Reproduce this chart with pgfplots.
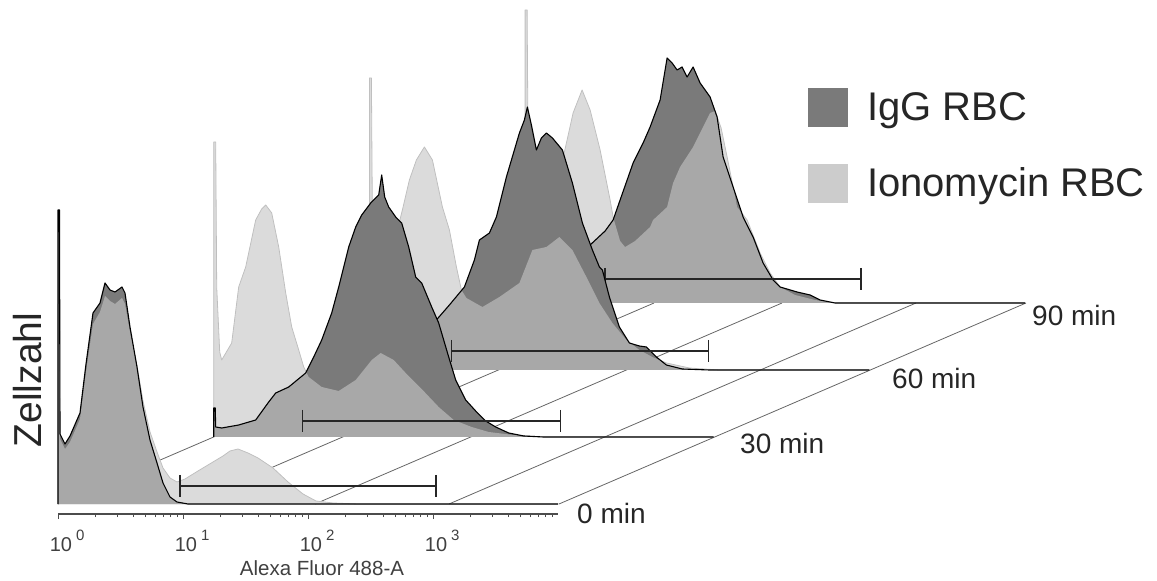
\documentclass[border=0pt]{standalone}
\usepackage{fontspec}
\setmainfont{Liberation Sans}
\usepackage{pgfplots}
\usepackage{pgfplotstable}
\pgfplotsset{compat=1.18}

\definecolor{igg}{gray}{0.48}
\definecolor{iono}{gray}{0.772}
\definecolor{ionoedge}{gray}{0.74}
\definecolor{legiono}{gray}{0.80}
\definecolor{txt}{gray}{0.15}

% x = log10(Alexa Fluor 488-A), y = cell count (relative)
% 0 min
\pgfplotstableread{
x y
0 0
0 294
0.012 294
0.016 70
0.056 60
0.096 68
0.176 91
0.224 140
0.28 191
0.336 201
0.376 221
0.416 214
0.456 212
0.512 217
0.536 211
0.576 177
0.632 137
0.68 97
0.736 64
0.792 41
0.84 21
0.896 7
0.952 2
1.04 0
4 0
}\iggA
\pgfplotstableread{
x y
0 0
0 200
0.012 200
0.016 65
0.056 55
0.096 62
0.176 85
0.224 132
0.28 180
0.336 192
0.376 208
0.416 203
0.456 200
0.512 206
0.536 200
0.576 172
0.632 138
0.68 103
0.736 72
0.792 52
0.84 36
0.896 26
0.952 22
1.016 25
1.12 33
1.24 42
1.32 48
1.376 53
1.44 55
1.52 51
1.6 46
1.72 36
1.84 22
1.96 10
2.064 3
2.2 1
2.4 0
4 0
}\ionoA
% 30 min
\pgfplotstableread{
x y
0 0
0 29
0.012 29
0.016 10
0.064 9
0.2 12
0.336 17
0.44 35
0.496 44
0.6 50
0.736 64
0.8 80
0.864 97
0.944 124
1.0 150
1.08 190
1.136 210
1.184 222
1.256 234
1.32 242
1.344 262
1.368 240
1.4 230
1.456 220
1.504 214
1.56 190
1.616 160
1.664 154
1.744 130
1.8 114
1.88 80
1.936 57
2.016 37
2.096 26
2.176 16
2.256 10
2.36 4
2.48 1
2.64 0
4 0
}\iggB
\pgfplotstableread{
x y
0 0
0 295
0.016 295
0.024 150
0.048 85
0.064 77
0.144 94
0.2 150
0.256 170
0.336 217
0.384 228
0.416 232
0.464 224
0.52 190
0.576 144
0.624 110
0.68 87
0.72 70
0.76 60
0.864 50
1.0 46
1.136 57
1.264 77
1.336 84
1.44 77
1.536 64
1.664 48
1.8 30
1.92 17
2.064 10
2.2 5
2.4 2
2.64 0
4 0
}\ionoB
% 60 min
\pgfplotstableread{
x y
0 0
0 20
0.012 20
0.016 8
0.08 8
0.24 20
0.48 42
0.64 65
0.76 83
0.84 110
0.88 130
0.96 137
1.016 153
1.096 193
1.2 237
1.24 250
1.264 263
1.296 245
1.336 220
1.376 232
1.416 237
1.464 232
1.544 220
1.624 187
1.704 147
1.784 120
1.84 103
1.864 100
1.92 73
2.0 43
2.08 27
2.16 24
2.216 23
2.296 13
2.376 5
2.504 1
2.72 0
4 0
}\iggC
\pgfplotstableread{
x y
0 0
0 292
0.016 292
0.024 150
0.064 65
0.144 90
0.224 140
0.264 160
0.32 190
0.376 210
0.44 223
0.504 210
0.584 163
0.64 140
0.696 103
0.736 80
0.776 72
0.904 63
1.04 73
1.2 87
1.304 120
1.416 123
1.52 133
1.624 120
1.736 93
1.84 67
1.944 47
2.056 30
2.16 20
2.264 13
2.376 7
2.56 2
2.8 0
4 0
}\ionoC
% 90 min
\pgfplotstableread{
x y
0 0
0 15
0.012 15
0.016 6
0.16 15
0.36 40
0.52 58
0.64 72
0.704 83
0.76 103
0.864 140
0.944 160
1.0 176
1.08 203
1.136 245
1.176 240
1.216 233
1.256 236
1.296 226
1.344 236
1.4 220
1.48 206
1.536 186
1.584 146
1.664 116
1.744 86
1.824 66
1.904 40
1.984 23
2.04 16
2.176 11
2.28 8
2.36 3
2.48 0
4 0
}\iggD
\pgfplotstableread{
x y
0 0
0 293
0.016 293
0.024 150
0.064 60
0.16 80
0.24 110
0.336 163
0.384 190
0.456 213
0.52 193
0.6 153
0.68 103
0.704 86
0.76 62
0.8 56
0.88 62
1.0 76
1.024 83
1.136 96
1.184 120
1.24 136
1.344 156
1.424 176
1.48 190
1.52 192
1.568 175
1.616 146
1.696 96
1.776 83
1.88 50
1.96 30
2.04 16
2.16 8
2.32 3
2.48 0
4 0
}\ionoD

\pgfplotsset{
  layer/.style={scale only axis, width=500pt, height=310pt,
    xmin=0, xmax=4, ymin=-10, ymax=300, clip=false, anchor=south west},
  gate/.style={draw=txt, line width=1.5pt, mark=|, mark size=11pt,
    mark options={line width=1.5pt}},
  floor/.style={draw=black!60, line width=0.8pt},
}
% one histogram layer: Ionomycin under/over IgG
\newcommand{\histlayer}[2]{%
  \addplot[fill=white, draw=none] table {#2};
  \addplot[draw=ionoedge, line width=0.8pt, line join=round] table {#2};
  \addplot[fill=igg, draw=none] table {#1};
  \addplot[fill=iono, fill opacity=0.615, draw=none] table {#2};
  \addplot[draw=black, line width=1.1pt, line join=round] table {#1};
}
\newcommand{\dec}[1]{10\rlap{\hspace{4pt}\raisebox{11pt}{\fontsize{15}{15}\selectfont #1}}}

\begin{document}
\begin{tikzpicture}
\useasboundingbox (0,0) rectangle (1157pt,581pt);

% floor, time labels, legend
\begin{axis}[at={(0pt,0pt)}, anchor=south west, scale only axis,
  width=1157pt, height=581pt, xmin=0, xmax=1157, ymin=0, ymax=581,
  axis lines=none, clip=false,
  legend image code/.code={%
    \fill[#1, draw=none] (0pt,-19.5pt) rectangle (40pt,19.5pt);
    \fill[opacity=0] (40pt,-1pt) rectangle (59pt,1pt);},
  legend style={at={(axis description cs:0.6984,0.8485)}, anchor=north west,
    draw=none, fill=none, inner sep=0pt, outer sep=0pt, row sep=36.5pt,
    nodes={inner sep=0pt, text=txt}, font=\fontsize{40}{40}\selectfont},
  legend cell align=left,
]
\addplot[floor, forget plot] coordinates {(58,77) (525,278)};
\addplot[floor, forget plot] coordinates {(187,77) (654,278)};
\addplot[floor, forget plot] coordinates {(315,77) (782,278)};
\addplot[floor, forget plot] coordinates {(449,77) (916,278)};
\addplot[floor, forget plot] coordinates {(559,77) (1026,278)};
% legend carriers (single points, nothing drawn)
\addplot[fill=igg, draw=none] coordinates {(900,400)};
\addlegendentry{IgG RBC}
\addplot[fill=legiono, draw=none] coordinates {(900,400)};
\addlegendentry{Ionomycin RBC}
\node[anchor=west, inner sep=0pt, text=txt, font=\fontsize{28}{28}\selectfont] at (axis cs:577,68) {0 min};
\node[anchor=west, inner sep=0pt, text=txt, font=\fontsize{28}{28}\selectfont] at (axis cs:740,138) {30 min};
\node[anchor=west, inner sep=0pt, text=txt, font=\fontsize{28}{28}\selectfont] at (axis cs:892,203) {60 min};
\node[anchor=west, inner sep=0pt, text=txt, font=\fontsize{28}{28}\selectfont] at (axis cs:1032,266) {90 min};
\node[rotate=90, inner sep=0pt, text=txt, font=\fontsize{39}{39}\selectfont] at (axis cs:28,201) {Zellzahl};
\end{axis}

% 90 min
\begin{axis}[layer, at={(525.1pt,268pt)}, axis lines=none]
\histlayer{\iggD}{\ionoD}
\addplot[gate] coordinates {(0.64,24) (2.688,24)};
\end{axis}

% 60 min
\begin{axis}[layer, at={(369.4pt,201pt)}, axis lines=none]
\histlayer{\iggC}{\ionoC}
\addplot[gate] coordinates {(0.656,19) (2.712,19)};
\end{axis}

% 30 min
\begin{axis}[layer, at={(213.7pt,134pt)}, axis lines=none]
\histlayer{\iggB}{\ionoB}
\addplot[gate] coordinates {(0.712,16) (2.776,16)};
\end{axis}

% 0 min, with the intensity axis
\begin{axis}[layer, at={(58pt,67pt)},
  axis x line*=bottom, axis y line=none,
  x axis line style={black!70, line width=1.3pt},
  xtick={0,1,2,3},
  xticklabels={\dec{0},\dec{1},\dec{2},\dec{3}},
  minor xtick={0.301,0.477,0.602,0.699,0.778,0.845,0.903,0.954,
               1.301,1.477,1.602,1.699,1.778,1.845,1.903,1.954,
               2.301,2.477,2.602,2.699,2.778,2.845,2.903,2.954,
               3.301,3.477,3.602,3.699,3.778,3.845,3.903,3.954},
  tick align=outside, major tick length=5pt, minor tick length=3pt,
  every tick/.style={black!70, line width=0.8pt},
  xticklabel style={anchor=base, yshift=-32pt, xshift=3pt, text=black!75,
    font=\fontsize{20}{20}\selectfont},
  xlabel={Alexa Fluor 488-A},
  xlabel style={at={(axis description cs:0.528,-0.197)}, anchor=base,
    text=black!75, font=\fontsize{20.5}{20.5}\selectfont},
]
\histlayer{\iggA}{\ionoA}
\addplot[gate] coordinates {(0.976,18) (3.024,18)};
\end{axis}
\end{tikzpicture}
\end{document}
